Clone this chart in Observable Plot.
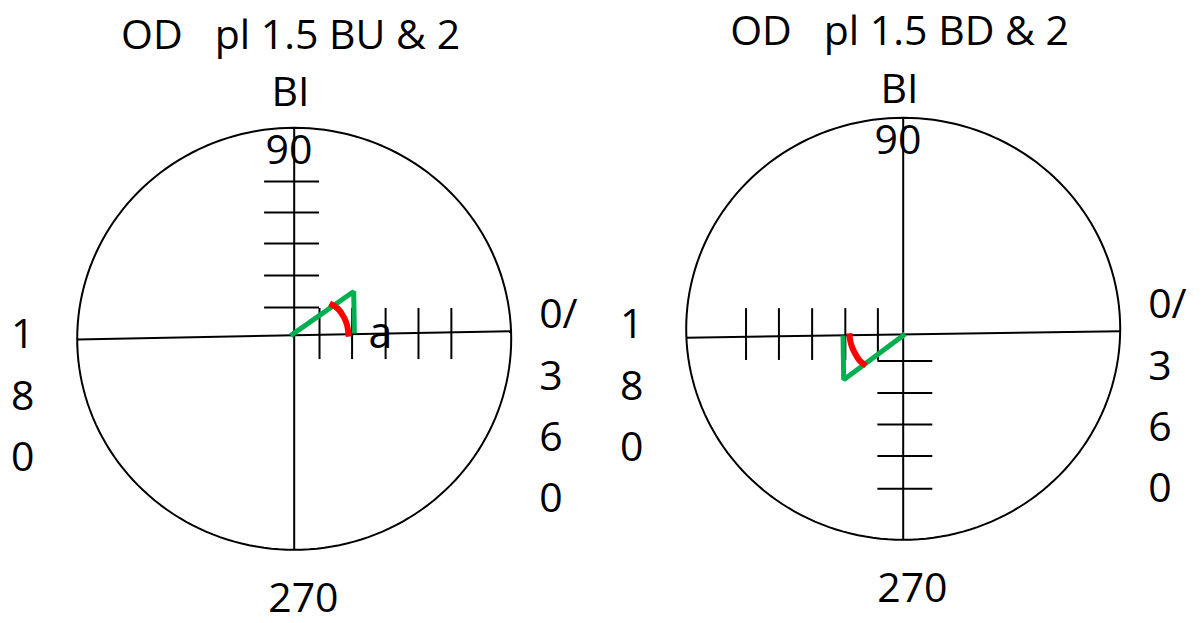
<!DOCTYPE html>
<html><head><meta charset="utf-8">
<script src="https://cdn.jsdelivr.net/npm/d3@7"></script>
<script src="https://cdn.jsdelivr.net/npm/@observablehq/plot@0.6"></script>
<style>
html,body{margin:0;padding:0;background:#fff;width:1204px;height:623px;overflow:hidden;}
#wrap{position:relative;width:1204px;height:623px;}
#p1{position:absolute;left:0;top:0;}
#p2{position:absolute;left:609px;top:-10px;}
svg text{white-space:pre;}
</style></head><body><div id="wrap"><div id="p1"></div><div id="p2"></div></div>
<script>
// ---- data ----
const R = 6.6; // circle radius, in tick units
const panelTitles = ["OD   pl 1.5 BU & 2\nBI", "OD   pl 1.5 BD & 2\nBI"];
const topLabel = "90";
const bottomLabel = "270";
const leftLabel = "1\n8\n0";
const rightLabel = "0/\n3\n6\n0";
const pointLabel = "a";

// horizontal axis heights at left / right end of each panel
const hAxisLeftY = [-0.02, -0.28];
const hAxisRightY = [0.24, -0.075];

// tick marks along the axes
const buXTicks = [0.77, 1.76, 2.78, 3.78, 4.78];
const buYTicks = [0.98, 1.98, 2.98, 3.95, 4.92];
const bdXTicks = [-0.77, -1.76, -2.77, -3.78, -4.78];
const bdYTicks = [-1.01, -2.01, -2.99, -3.98, -5.0];

// green prism triangle (origin -> vertex -> foot)
const buPrismX = [-0.11, 1.81, 1.83];
const buPrismY = [0.10, 1.48, 0.17];
const bdPrismX = [0.06, -1.81, -1.83];
const bdPrismY = [-0.16, -1.59, -0.21];

// red angle arc
const buArcX = [1.08, 1.33, 1.51, 1.61, 1.66];
const buArcY = [1.11, 0.94, 0.68, 0.42, 0.07];
const bdArcX = [-1.64, -1.59, -1.46, -1.31, -1.13];
const bdArcY = [-0.14, -0.47, -0.78, -1.01, -1.15];

const panels = [
  {xTicks: buXTicks, yTicks: buYTicks, px: buPrismX, py: buPrismY, ax: buArcX, ay: buArcY,
   xtLo: -0.65, xtHi: 0.95, ytLo: -0.9, ytHi: 0.77, showA: true, titleY: 8.75},
  {xTicks: bdXTicks, yTicks: bdYTicks, px: bdPrismX, py: bdPrismY, ax: bdArcX, ay: bdArcY,
   xtLo: -0.99, xtHi: 0.63, ytLo: -0.77, ytHi: 0.9, showA: false, titleY: 8.55}
];

const circle = d3.range(0, 361, 2).map(a => ({x: R * Math.cos(a * Math.PI / 180), y: R * Math.sin(a * Math.PI / 180)}));

function draw(i, el, w) {
  const p = panels[i];
  const prism = p.px.map((x, k) => ({x, y: p.py[k]}));
  const arc = p.ax.map((x, k) => ({x, y: p.ay[k]}));
  const chart = Plot.plot({
    width: w, height: 623, margin: 0,
    x: {domain: [-R, R], range: [76.7, 510.7], axis: null},
    y: {domain: [-R, R], range: [549.3, 127.3], axis: null},
    style: {fontFamily: "'Open Sans', sans-serif", fontSize: "41px", color: "#000", background: "transparent", overflow: "visible"},
    marks: [
      Plot.line(circle, {x: "x", y: "y", stroke: "#000", strokeWidth: 2, curve: "linear"}),
      Plot.ruleX([0], {y1: -R, y2: R, stroke: "#000", strokeWidth: 2}),
      Plot.link([0], {x1: -R, y1: hAxisLeftY[i], x2: R, y2: hAxisRightY[i], stroke: "#000", strokeWidth: 2}),
      Plot.ruleX(p.xTicks, {x: d => d, y1: p.xtLo, y2: p.xtHi, stroke: "#000", strokeWidth: 2}),
      Plot.ruleY(p.yTicks, {y: d => d, x1: p.ytLo, x2: p.ytHi, stroke: "#000", strokeWidth: 2}),
      Plot.line(prism, {x: "x", y: "y", stroke: "#00b050", strokeWidth: 5, strokeLinejoin: "miter", strokeLinecap: "butt"}),
      Plot.line(arc, {x: "x", y: "y", stroke: "#ff0000", strokeWidth: 6, curve: "natural", strokeLinecap: "butt"}),
      Plot.text([panelTitles[i]], {text: d => d, x: -0.11, y: p.titleY, lineHeight: 1.4, lineAnchor: "middle", fill: "#000"}),
      Plot.text([topLabel], {text: d => d, x: -0.16, y: 5.89, lineAnchor: "middle", fill: "#000"}),
      Plot.text([bottomLabel], {text: d => d, x: 0.28, y: -8.13, lineAnchor: "middle", fill: "#000"}),
      Plot.text([leftLabel], {text: d => d, x: -8.26, y: -1.6, lineHeight: 1.49, lineAnchor: "middle", fill: "#000"}),
      Plot.text([rightLabel], {text: d => d, x: 7.45, y: -1.93, lineHeight: 1.49, lineAnchor: "middle", textAnchor: "start", fill: "#000"}),
      p.showA ? Plot.text([pointLabel], {text: d => d, x: 2.62, y: 0.13, lineAnchor: "middle", fill: "#000", fontSize: 43}) : null
    ]
  });
  el.appendChild(chart);
}
draw(0, document.getElementById("p1"), 602);
draw(1, document.getElementById("p2"), 595);
</script>
</body></html>
